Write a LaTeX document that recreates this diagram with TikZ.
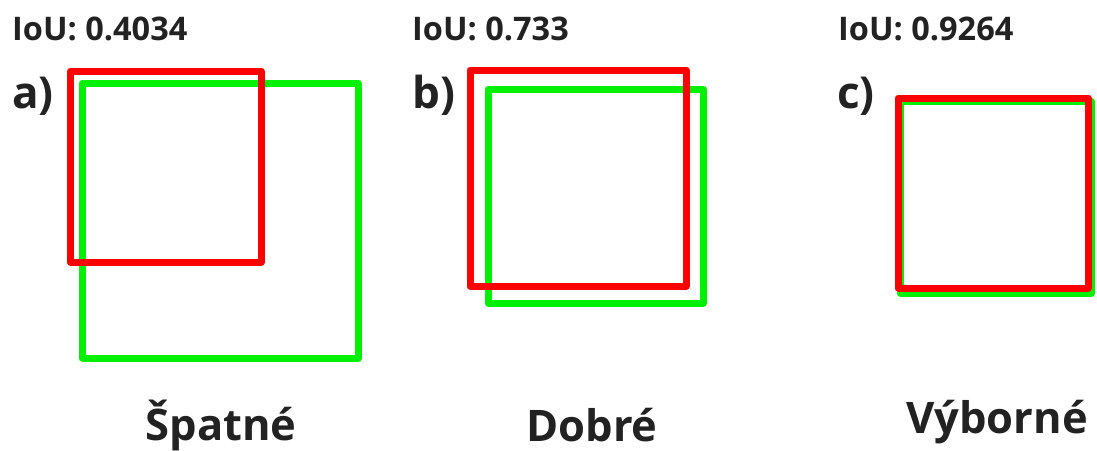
\documentclass[tikz,border=0pt]{standalone}
\usepackage{fontspec}
\setmainfont{Open Sans}
\definecolor{boxred}{RGB}{255,0,0}
\definecolor{boxgreen}{RGB}{0,240,0}
\definecolor{ink}{RGB}{34,34,34}
\begin{document}
\begin{tikzpicture}[x=1pt,y=-1pt,
  truth/.style={draw=boxgreen,line width=7pt,line join=round},
  pred/.style={draw=boxred,line width=7pt,line join=round},
  score/.style={anchor=base west,inner sep=0pt,text=ink,font=\bfseries\fontsize{32.5}{36}\selectfont},
  tag/.style={anchor=base west,inner sep=0pt,text=ink,font=\bfseries\fontsize{44}{48}\selectfont},
  verdict/.style={anchor=base,inner sep=0pt,text=ink,font=\bfseries\fontsize{43.5}{48}\selectfont}]
\useasboundingbox[fill=white] (0,0) rectangle (1097,450);

% a) poor overlap
\draw[truth] (82,83) rectangle (358,358);
\draw[pred]  (70.5,71) rectangle (261,262);
% b) good overlap
\draw[truth] (488,89) rectangle (703,303);
\draw[pred]  (470,70) rectangle (686,286);
% c) excellent overlap
\draw[truth] (900,101) rectangle (1091,293);
\draw[pred]  (898,98) rectangle (1088,288);

% scores
\node[score] (sa) at (12,40) {IoU: 0.4034};
\node[score] (sb) at (412,40) {IoU: 0.733};
\node[score] (sc) at (838,40) {IoU: 0.9264};

% panel letters
\node[tag] (ta) at (12,108) {a)};
\node[tag] (tb) at (412,108) {b)};
\node[tag] (tc) at (837,108) {c)};

% verdicts
\node[verdict] (va) at (221,440) {Špatné};
\node[verdict] (vb) at (592,441) {Dobré};
\node[verdict] (vc) at (997,433) {Výborné};
\end{tikzpicture}
\end{document}
